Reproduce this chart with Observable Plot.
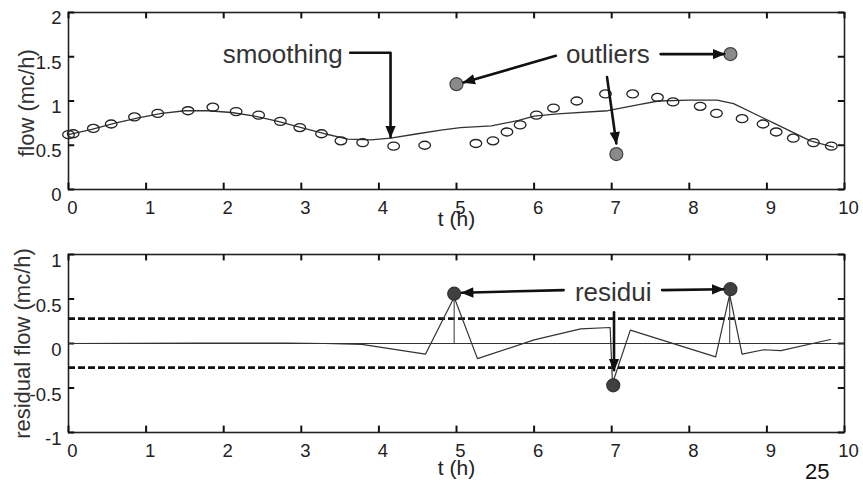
<!DOCTYPE html>
<html><head><meta charset="utf-8">
<script src="https://cdn.jsdelivr.net/npm/d3@7"></script>
<script src="https://cdn.jsdelivr.net/npm/@observablehq/plot@0.6"></script>
<style>
html,body{margin:0;padding:0;background:#fff;}
#wrap{position:relative;width:863px;height:484px;font-family:"Liberation Sans",Arial,sans-serif;}
#topPanel{position:absolute;left:0;top:0;}
#botPanel{position:absolute;left:0;top:240px;}
#page{position:absolute;left:805px;top:459px;font-size:22px;color:#111;font-family:"Liberation Sans",Arial,sans-serif;}
</style></head><body>
<div id="wrap"><div id="topPanel"></div><div id="botPanel"></div><div id="page">25</div></div>
<script>
// ---- data ----
const xTicks = [0,1,2,3,4,5,6,7,8,9,10];
const yTicksTop = [0,0.5,1,1.5,2];
const yTicksBot = [-1,-0.5,0,0.5,1];

const obsT = [0,0.06,0.32,0.55,0.85,1.15,1.54,1.86,2.16,2.45,2.73,2.98,3.26,3.51,3.79,4.19,4.59,5.25,5.47,5.65,5.82,6.03,6.25,6.55,6.92,7.27,7.59,7.79,8.14,8.35,8.68,8.95,9.12,9.34,9.60,9.83];
const obsFlow = [0.62,0.63,0.69,0.74,0.82,0.86,0.89,0.93,0.88,0.84,0.77,0.70,0.63,0.55,0.53,0.49,0.50,0.52,0.55,0.65,0.73,0.84,0.92,1.00,1.08,1.08,1.04,0.99,0.94,0.86,0.80,0.74,0.65,0.58,0.53,0.49];

const smoothT = [0,0.3,0.6,0.9,1.2,1.5,1.8,2.1,2.4,2.7,3.0,3.3,3.6,3.9,4.15,4.5,4.8,5.05,5.45,5.8,6.0,6.3,6.95,7.35,7.6,8.0,8.36,8.57,9.09,9.56,9.86];
const smoothFlow = [0.62,0.68,0.75,0.81,0.86,0.89,0.89,0.87,0.83,0.77,0.70,0.63,0.57,0.56,0.58,0.63,0.67,0.70,0.72,0.78,0.83,0.855,0.89,0.96,1.0,1.01,1.01,0.97,0.75,0.55,0.48];

const outT = [5.0, 7.06, 8.53];
const outFlow = [1.19, 0.40, 1.53];

const resT = [0,1.66,2.82,3.3,3.78,4.6,4.97,5.27,6.0,6.6,6.98,7.01,7.24,8.34,8.52,8.68,8.96,9.18,9.82];
const resVal = [0,0.005,0.005,0,-0.01,-0.12,0.52,-0.17,0.04,0.165,0.18,-0.45,0.15,-0.15,0.55,-0.12,-0.07,-0.08,0.045];

const resDotT = [4.97, 7.02, 8.53];
const resDotVal = [0.56, -0.47, 0.61];

const stemT = [4.97, 8.52];
const stemVal = [0.52, 0.55];

const thresholds = [0.28, -0.27];

const topLabels = [{t:2.76, v:1.52, text:"smoothing"},{t:6.95, v:1.52, text:"outliers"}];
const botLabels = [{t:7.02, v:0.576, text:"residui"}];

const topArrows = [
  {id:"s",t:3.63,v:1.545},{id:"s",t:4.15,v:1.545},{id:"s",t:4.15,v:0.59},
  {id:"a",t:6.28,v:1.51},{id:"a",t:5.09,v:1.21},
  {id:"b",t:7.63,v:1.53},{id:"b",t:8.45,v:1.53},
  {id:"c",t:6.94,v:1.27},{id:"c",t:7.06,v:0.52}
];
const botArrows = [
  {id:"a",t:6.38,v:0.60},{id:"a",t:5.07,v:0.57},
  {id:"b",t:7.65,v:0.60},{id:"b",t:8.44,v:0.61},
  {id:"c",t:7.03,v:0.35},{id:"c",t:7.03,v:-0.30}
];

// ---- helpers ----
const FONT = "Liberation Sans, Arial, sans-serif";
const ink = "#222";
const W = 863, ML = 68, MR = 19;

const ellipse = {
  draw(ctx, size) {
    const r = Math.sqrt(size / Math.PI), rx = r * 1.45, ry = r, k = 0.5523;
    ctx.moveTo(rx, 0);
    ctx.bezierCurveTo(rx, ry*k, rx*k, ry, 0, ry);
    ctx.bezierCurveTo(-rx*k, ry, -rx, ry*k, -rx, 0);
    ctx.bezierCurveTo(-rx, -ry*k, -rx*k, -ry, 0, -ry);
    ctx.bezierCurveTo(rx*k, -ry, rx, -ry*k, rx, 0);
    ctx.closePath();
  }
};

function headMarker(color) {
  const m = d3.create("svg:marker")
    .attr("viewBox", "-9 -5 10 10")
    .attr("markerWidth", 5).attr("markerHeight", 5)
    .attr("orient", "auto")
    .attr("fill", color).attr("stroke", "none");
  m.append("path").attr("d", "M-8.8,-4L0.8,0L-8.8,4Z");
  return m.node();
}

// inward MATLAB-style ticks; tick length expressed as a fraction of each domain (~6 px)
function frameMarks(yTicks, yDom, yLabDy) {
  const [y0, y1] = yDom, ty = (y1 - y0) * 0.036, tx = 10 * 0.008;
  const tk = {stroke: "#111", strokeWidth: 2};
  return [
    Plot.frame({stroke: ink, strokeWidth: 1.6}),
    Plot.ruleX(xTicks, {x: d => d, y1: y0, y2: y0 + ty, ...tk}),
    Plot.ruleX(xTicks, {x: d => d, y1: y1, y2: y1 - ty, ...tk}),
    Plot.ruleY(yTicks, {y: d => d, x1: 0, x2: tx, ...tk}),
    Plot.ruleY(yTicks, {y: d => d, x1: 10, x2: 10 - tx, ...tk}),
    Plot.axisX(xTicks, {tickSize: 0, tickPadding: 11, dx: 4, fontSize: 18.5, fill: ink, label: null, tickFormat: d => String(d)}),
    Plot.axisY(yTicks, {tickSize: 0, tickPadding: 7, dy: yLabDy, fontSize: 18.5, fill: ink, label: null, tickFormat: d => String(d)})
  ];
}

// ---- top chart ----
const obs = obsT.map((t, i) => ({t, v: obsFlow[i]}));
const smooth = smoothT.map((t, i) => ({t, v: smoothFlow[i]}));
const outl = outT.map((t, i) => ({t, v: outFlow[i]}));

const topChart = Plot.plot({
  width: W, height: 240, marginLeft: ML, marginRight: MR, marginTop: 12, marginBottom: 51,
  style: {fontFamily: FONT, background: "transparent", overflow: "visible"},
  x: {domain: [0, 10]},
  y: {domain: [0, 2]},
  marks: [
    ...frameMarks(yTicksTop, [0, 2], 6),
    Plot.line(smooth, {x: "t", y: "v", stroke: "#333", strokeWidth: 1.3}),
    Plot.dot(obs, {x: "t", y: "v", r: 4, symbol: ellipse, stroke: "#222", strokeWidth: 1.3, fill: "none"}),
    Plot.dot(outl, {x: "t", y: "v", r: 6.5, fill: "#8a8a8a", stroke: "#444", strokeWidth: 1.2}),
    Plot.line(topArrows, {x: "t", y: "v", z: "id", stroke: "#111", strokeWidth: 2.6, markerEnd: headMarker}),
    Plot.text(topLabels, {x: "t", y: "v", text: "text", fontSize: 26, fill: "#333"}),
    Plot.text(["t (h)"], {frameAnchor: "bottom", lineAnchor: "middle", dy: 30, fontSize: 21, fill: ink}),
    Plot.text(["flow (mc/h)"], {frameAnchor: "left", textAnchor: "middle", lineAnchor: "middle", rotate: -90, dx: -42, dy: 2, fontSize: 22, fill: "#333"})
  ]
});
document.getElementById("topPanel").append(topChart);

// ---- bottom chart ----
const resid = resT.map((t, i) => ({t, v: resVal[i]}));
const rdots = resDotT.map((t, i) => ({t, v: resDotVal[i]}));
const stems = stemT.map((t, i) => ({t, v: stemVal[i]}));

const botChart = Plot.plot({
  width: W, height: 244, marginLeft: ML, marginRight: MR, marginTop: 14, marginBottom: 52,
  style: {fontFamily: FONT, background: "transparent", overflow: "visible"},
  x: {domain: [0, 10]},
  y: {domain: [-1, 1]},
  marks: [
    ...frameMarks(yTicksBot, [-1, 1], 7),
    Plot.ruleY([0], {stroke: "#333", strokeWidth: 1.1}),
    Plot.ruleY(thresholds, {stroke: "#111", strokeWidth: 2.7, strokeDasharray: "7,3"}),
    Plot.ruleX(stems, {x: "t", y1: 0, y2: "v", stroke: "#555", strokeWidth: 1.2}),
    Plot.line(resid, {x: "t", y: "v", stroke: "#333", strokeWidth: 1.2}),
    Plot.dot(rdots, {x: "t", y: "v", r: 6.5, fill: "#404040", stroke: "#333", strokeWidth: 1.2}),
    Plot.line(botArrows, {x: "t", y: "v", z: "id", stroke: "#111", strokeWidth: 2.6, markerEnd: headMarker}),
    Plot.text(botLabels, {x: "t", y: "v", text: "text", fontSize: 26, fill: "#333"}),
    Plot.text(["t (h)"], {frameAnchor: "bottom", lineAnchor: "middle", dy: 36, fontSize: 21, fill: ink}),
    Plot.text(["residual flow (mc/h)"], {frameAnchor: "left", textAnchor: "middle", lineAnchor: "middle", rotate: -90, dx: -46, fontSize: 22, fill: "#333"})
  ]
});
document.getElementById("botPanel").append(botChart);
</script></body></html>
